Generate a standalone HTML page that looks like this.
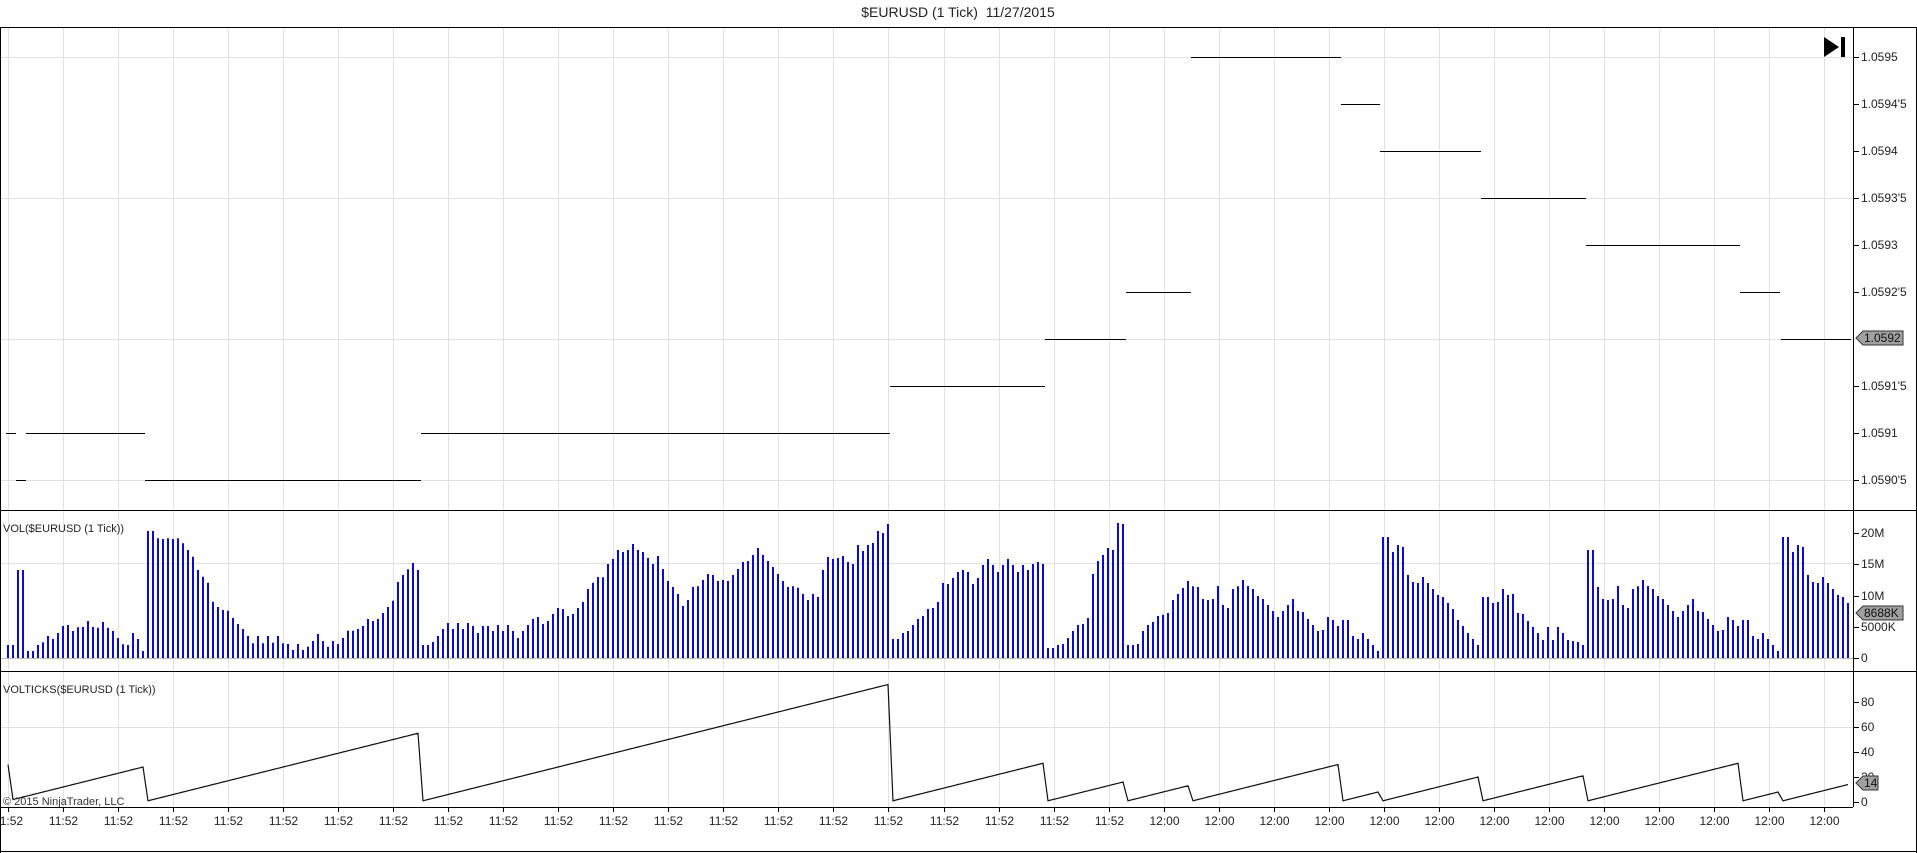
<!DOCTYPE html>
<html><head><meta charset="utf-8"><style>
html,body{margin:0;padding:0;background:#fff;}
svg{display:block;font-family:"Liberation Sans",Arial,sans-serif;}
</style></head><body>
<div id="w" style="width:1917px;height:853px;"></div>
<script>
(function(){
var o=[];
function L(x1,y1,x2,y2,c,w){o.push('<line x1="'+x1+'" y1="'+y1+'" x2="'+x2+'" y2="'+y2+'" stroke="'+c+'" stroke-width="'+(w||1)+'"/>');}
function T(x,y,t,a,sz,c){o.push('<text x="'+x+'" y="'+y+'" font-size="'+(sz||12)+'" fill="'+(c||'#222')+'" text-anchor="'+(a||'start')+'">'+t+'</text>');}
var R=1853,k,i;
for(k=0;k<34;k++){var gx=Math.round(8+55.03*k)+0.5;L(gx,28,gx,807,'#e2e2e2');}
var hg=[57,198,339,480];for(i=0;i<hg.length;i++){L(1,hg[i]+.5,R,hg[i]+.5,'#e2e2e2');}
L(1,563.5,R,563.5,'#e2e2e2');L(1,727.5,R,727.5,'#e2e2e2');L(1,658.5,R,658.5,'#bbb');
var segs=[[6,16,433],[16,26,480],[26,145,433],[145,421,480],[421,890,433],[890,1045,386],[1045,1126,339],[1126,1191,292],[1191,1341,57],[1341,1380,104],[1380,1481,151],[1481,1586,198],[1586,1740,245],[1740,1780,292],[1781,1851,339]];
for(i=0;i<segs.length;i++){var s=segs[i];L(s[0],s[2]+.5,s[1],s[2]+.5,'#000');}
var pl=['1.0595',"1.0594'5",'1.0594',"1.0593'5",'1.0593',"1.0592'5",'1.0592',"1.0591'5",'1.0591',"1.0590'5"];
for(i=0;i<pl.length;i++){var y=57+47*i;if(i!=6){L(R,y+.5,R+6,y+.5,'#000');T(1861,y+4,pl[i]);}}
var z4=[405,405,180,180,423,423,405,397,378,387,369,348,345,363,352,351,333,351,353,336,353,363,384,403,405,369,387,423,63,63,85,87,85,87,85,100,120,140,180,200,218,275,291,300,302,324,342,357,378,400,378,400,378,398,378,400,402,420,402,420,410,393,372,393,410,393,402,384,362,362,357,348,327,333,327,309,291,272,216,195,178,159,180,405,405,396,378,357,339,357,339,357,339,348,369,348,348,363,345,363,345,363,384,363,345,327,321,342,333,312,294,297,318,312,294,276,237,218,201,202,162,147,120,126,120,102,120];
var z5=[126,144,162,138,177,213,231,252,288,270,231,229,210,192,195,213,210,213,195,177,156,153,135,114,135,153,171,192,213,231,229,233,252,270,252,261,180,141,147,144,138,156,162,105,123,105,99,63,69,42,387,387,369,363,345,327,318,297,294,276,219,222,204,186,180,186,222,204,165,147,165,186,165,147,165,186,165,180,162,156,162,414,414,405,402,384,363,345,342,324,192,153,135,114,120,39,42,405,405,402,363,345,336,318,314,309,270,252,234,213,229,231,267,270,267,228,285,294,237,229,210,228,237,258,267,285];
var z6=[303,321,303,285,267,303,306,327,345,363,360,321,330,348,330,330,378,387,369,387,405,423,81,81,126,105,111,195,216,219,201,219,237,255,261,279,297,330,348,369,387,405,261,261,279,276,237,255,252,309,312,333,351,369,390,351,390,351,369,390,393,396,405,120,120,231,267,270,267,228,285,294,237,229,210,228,237,258,267,285,303,321,303,285,267,303,306,327,345,363,360,321,330,348,330,330,378,387,369,387,405,423,81,81,126,105,111,195,216,219,201,219,237,255,261,279];
var v=z4.concat(z5,z6);var n=v.length;var x0=8,x1=1848,sp=(x1-x0)/(n-1);
var bars='';
for(i=0;i<n;i++){var bx=x0+sp*i;var top=510+v[i]/3;bars+='M'+bx.toFixed(1)+' 658V'+top.toFixed(1);}
o.push('<path d="'+bars+'" stroke="#0a0ad2" stroke-width="2" fill="none"/>');
var br=[145,421,890,1045,1126,1191,1341,1380,1481,1586,1740,1780];
var pts=[],cnt=30,bi=0;
for(i=0;i<n;i++){var px=x0+sp*i;if(i==1)cnt=2;else if(i>1){if(bi<br.length&&px>=br[bi]){cnt=1;bi++;}else cnt++;}
pts.push(px.toFixed(1)+','+(802-cnt*1.25).toFixed(1));}
o.push('<polyline points="'+pts.join(' ')+'" fill="none" stroke="#111" stroke-width="1.2"/>');
L(0,27.5,1917,27.5,'#000');L(0.5,27,0.5,853,'#000');L(1916.5,27,1916.5,853,'#000');L(0,851.5,1917,851.5,'#000');
L(0,510.5,1917,510.5,'#000');L(0,671.5,1917,671.5,'#000');L(R+.5,28,R+.5,807,'#000');L(0,807.5,R,807.5,'#000');
var va=[['20M',533],['15M',564],['10M',596],['5000K',627],['0',658],['80',702],['60',727],['40',752],['20',777],['0',802]];
for(i=0;i<va.length;i++){L(R,va[i][1]+.5,R+6,va[i][1]+.5,'#000');T(1861,va[i][1]+4,va[i][0]);}
function M(y,t,w){o.push('<path d="M1856 '+y+' l7 -7 h'+w+' v14 h-'+w+' z" fill="#a0a0a0" stroke="#333"/>');T(1864,y+4,t,'start',12,'#111');}
M(338,'1.0592',40);M(613,'8688K',40);M(783,'14',15);
for(k=0;k<34;k++){var tx=Math.round(8+55.03*k)+0.5;L(tx,807,tx,812,'#000');T(tx,825,k<=20?'11:52':'12:00','middle');}
T(958,17,'$EURUSD (1 Tick)\u00a0 11/27/2015','middle',14,'#222');
T(3,532,'VOL($EURUSD (1 Tick))','start',11,'#222');
T(3,693,'VOLTICKS($EURUSD (1 Tick))','start',11,'#222');
T(3,805,'\u00a9 2015 NinjaTrader, LLC','start',11,'#333');
o.push('<path d="M1824 37 L1839 47 L1824 57 Z" fill="#000"/><rect x="1841" y="37" width="4" height="20" fill="#000"/>');
document.getElementById('w').innerHTML='<svg width="1917" height="853" xmlns="http://www.w3.org/2000/svg">'+o.join('')+'</svg>';
})();
</script>
</body></html>
